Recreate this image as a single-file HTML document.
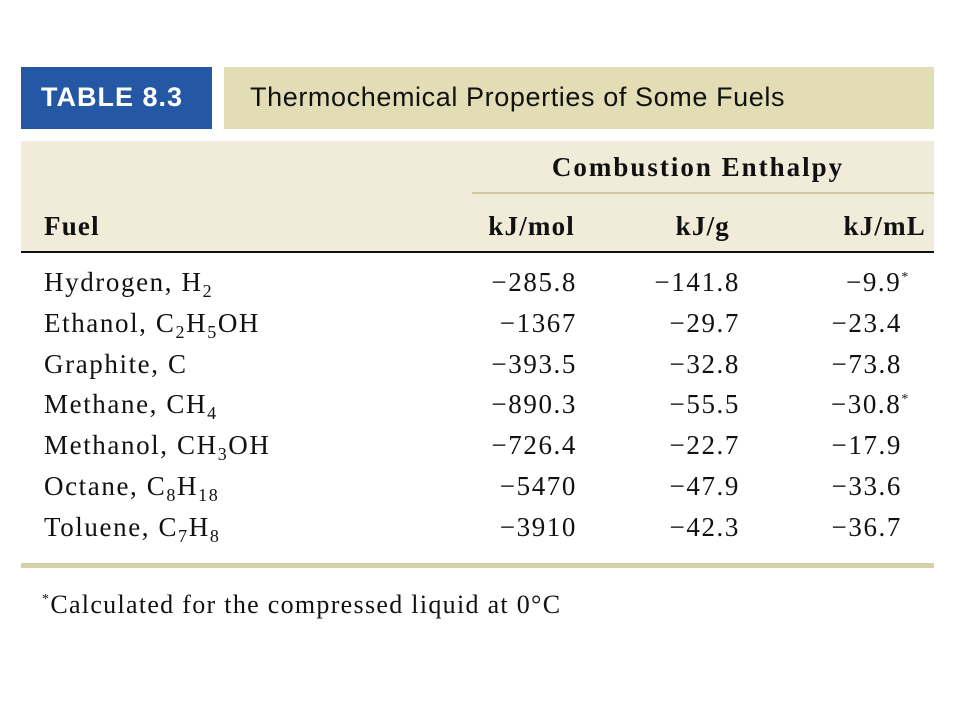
<!DOCTYPE html>
<html><head><meta charset="utf-8"><style>
body{margin:0;width:960px;height:720px;background:#fff;position:relative;overflow:hidden;font-family:"Liberation Serif",serif;color:#111}
.a{position:absolute}
.r{position:absolute;font-size:27px;line-height:30px;white-space:nowrap;letter-spacing:1.6px}
sub{font-size:18px;vertical-align:-6px;line-height:0}
sup{font-size:14px;vertical-align:10px;line-height:0}
.h{font:bold 27px 'Liberation Serif',serif;letter-spacing:1.2px}
</style></head><body>
<div class="a" style="left:21px;top:67px;width:191px;height:62px;background:#2457a4"></div>
<div class="a" style="left:41px;top:82px;font:bold 27px 'Liberation Sans',sans-serif;letter-spacing:1px;color:#fff">TABLE 8.3</div>
<div class="a" style="left:224px;top:67px;width:710px;height:62px;background:#e3ddb5"></div>
<div class="a" style="left:250px;top:82px;font:27px 'Liberation Sans',sans-serif;letter-spacing:0.6px;color:#111;white-space:nowrap">Thermochemical Properties of Some Fuels</div>
<div class="a" style="left:21px;top:141px;width:913px;height:111px;background:#f1ecd9"></div>
<div class="a h" style="left:472px;top:152px;width:452px;text-align:center;white-space:nowrap;letter-spacing:2px">Combustion Enthalpy</div>
<div class="a" style="left:472px;top:192px;width:462px;height:2px;background:#cfc8a0"></div>
<div class="a h" style="left:44px;top:211px">Fuel</div>
<div class="a h" style="left:400px;width:175px;top:211px;text-align:right">kJ/mol</div>
<div class="a h" style="left:600px;width:130px;top:211px;text-align:right">kJ/g</div>
<div class="a h" style="left:760px;width:166px;top:211px;text-align:right">kJ/mL</div>
<div class="a" style="left:21px;top:251px;width:913px;height:2px;background:#111"></div>
<div id="rows"></div>
<div class="a" style="left:21px;top:563px;width:913px;height:5px;background:#d6d1a8"></div>
<div class="a" style="left:42px;top:590px;font-size:26px;letter-spacing:1.3px;white-space:nowrap"><sup>*</sup>Calculated for the compressed liquid at 0°C</div>
<script>
const fuels=["Hydrogen, H<sub>2</sub>","Ethanol, C<sub>2</sub>H<sub>5</sub>OH","Graphite, C","Methane, CH<sub>4</sub>","Methanol, CH<sub>3</sub>OH","Octane, C<sub>8</sub>H<sub>18</sub>","Toluene, C<sub>7</sub>H<sub>8</sub>"];
const kjMol=["−285.8","−1367","−393.5","−890.3","−726.4","−5470","−3910"];
const kjG=["−141.8","−29.7","−32.8","−55.5","−22.7","−47.9","−42.3"];
const kjML=["−9.9","−23.4","−73.8","−30.8","−17.9","−33.6","−36.7"];
const starred=[true,false,false,true,false,false,false];
const c=document.getElementById('rows');
fuels.forEach((f,i)=>{
  const y=267+i*40.8;
  const mk=(html,left,width,align,name)=>{
    const d=document.createElement('div');
    d.className='r';
    
    
    d.style.left=left+'px';d.style.top=y+'px';
    if(width){d.style.width=width+'px';d.style.textAlign=align;}
    d.innerHTML=html;c.appendChild(d);
  };
  mk(f,44,0,'left','fuel-name');
  mk(kjMol[i],400,177,'right','kj-mol-value');
  mk(kjG[i],600,140,'right','kj-g-value');
  mk(kjML[i]+(starred[i]?'<sup>*</sup>':''),700,starred[i]?210:202,'right','kj-ml-value');
});
</script>
</body></html>
